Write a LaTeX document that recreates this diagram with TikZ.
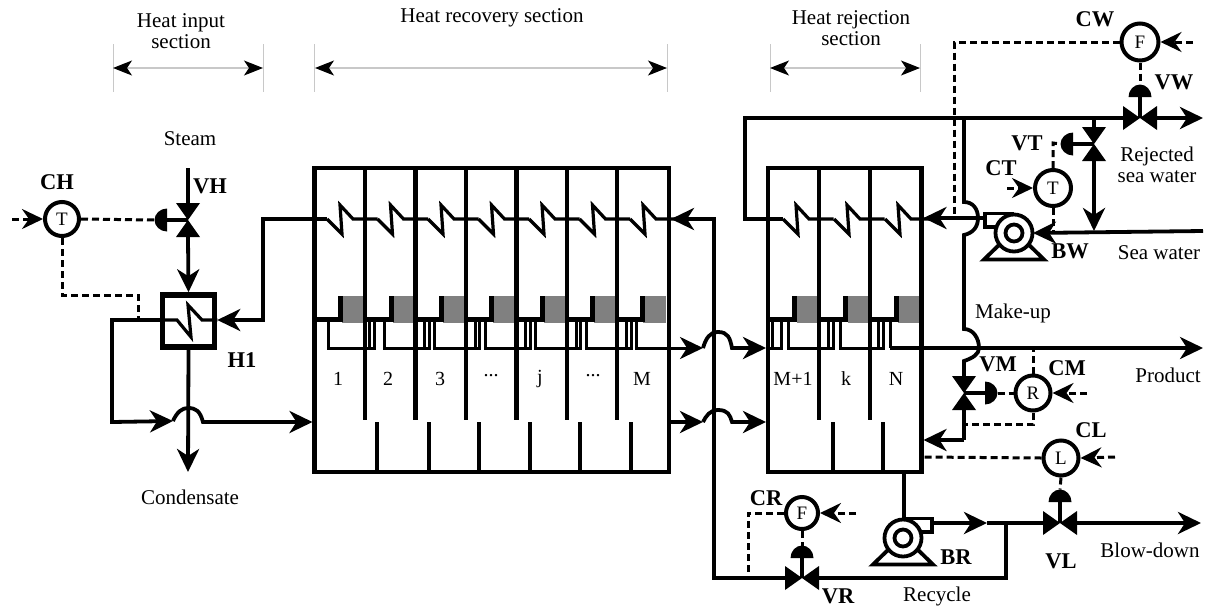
\documentclass[tikz,border=0pt]{standalone}
\usepackage{fontspec}
\setmainfont{Liberation Serif}
\usetikzlibrary{arrows.meta}
\definecolor{ink}{HTML}{000000}
\definecolor{traygray}{HTML}{808080}
\definecolor{dimgray}{HTML}{C8C8C8}
\tikzset{
  plant diagram/.style={
    x=1pt,
    y=-1pt,
    line cap=butt,
    line join=miter
  },
  lbl/.style={
    font=\fontsize{21}{21}\selectfont,
    align=center,
    inner sep=0pt
  },
  boldlbl/.style={
    font=\fontsize{22.5}{22}\selectfont\bfseries,
    inner sep=0pt
  },
  stagelbl/.style={
    font=\fontsize{20}{20}\selectfont,
    inner sep=0pt
  },
  shellbox/.style={
    draw=ink,
    line width=4.6pt,
    inner sep=0pt
  },
  ctrl/.style={
    draw=ink,
    circle,
    fill=white,
    line width=4pt,
    inner sep=0pt,
    minimum size=36pt,
    font=\fontsize{19}{19}\selectfont
  },
  pipe/.style={
    draw=ink,
    line width=3.8pt
  },
  pipearrow/.style={
    pipe,
    -{Stealth[length=23pt,width=22pt,inset=7pt]}
  },
  thinpipe/.style={
    draw=ink,
    line width=3.2pt
  },
  ubend/.style={
    draw=ink,
    line width=3pt
  },
  wall/.style={
    draw=ink,
    line width=4.6pt
  },
  weir/.style={
    draw=ink,
    line width=5pt
  },
  signal/.style={
    draw=ink,
    line width=3pt,
    dash pattern=on 7pt off 4pt
  },
  signalarrow/.style={
    signal,
    -{Stealth[length=21pt,width=20pt,inset=7pt]}
  },
  dimarrow/.style={
    draw=dimgray,
    line width=1.2pt,
    {Stealth[length=19pt,width=15pt,inset=5pt,color=ink]}-{Stealth[length=19pt,width=15pt,inset=5pt,color=ink]}
  },
  pics/hvalve/.style={code={
    \fill[ink] (-17,-12) -- (0,0) -- (-17,12) -- cycle;
    \fill[ink] (17,-12) -- (0,0) -- (17,12) -- cycle;
    \coordinate (-c) at (0,0);
    \coordinate (-w) at (-17,0);
    \coordinate (-e) at (17,0);
  }},
  pics/vvalve/.style={code={
    \fill[ink] (-12,-17) -- (0,0) -- (12,-17) -- cycle;
    \fill[ink] (-12,17) -- (0,0) -- (12,17) -- cycle;
    \coordinate (-c) at (0,0);
    \coordinate (-n) at (0,-17);
    \coordinate (-s) at (0,17);
  }},
  pics/dome/.style={code={
    \fill[ink] (-11.5,0) .. controls (-11.5,-7) and (-6,-12.5) .. (0,-12.5) .. controls (6,-12.5) and (11.5,-7) .. (11.5,0) -- cycle;
    \coordinate (-base) at (0,0);
    \coordinate (-top) at (0,-12.5);
  }},
  pics/pump/.style={code={
    \draw[pipe] (-13,10) -- (-30,26.5) -- (30,26.5) -- (13,10);
    \draw[pipe, fill=white] (0,-19.5) -- (29,-19.5) -- (29,-6) -- (15,-6);
    \draw[pipe, fill=white] (0,0) circle (18.5);
    \draw[pipe, fill=white] (0,0) circle (8.5);
    \coordinate (-in) at (-19,0);
    \coordinate (-top) at (1,-20);
    \coordinate (-out) at (29,-15);
  }},
  pics/coil/.style={code={
    \draw[thinpipe] (0,0) -- (15,15) -- (13,-14) -- (26,0) -- (50.5,0);
  }}
}

\begin{document}
\begin{tikzpicture}[plant diagram]
\useasboundingbox (0,0) rectangle (1208,606);

% section headings
\node[lbl] (inputlbl) at (181,31) {Heat input\\section};
\node[lbl] (recoverylbl) at (492,18) {Heat recovery section};
\node[lbl] (rejectionlbl) at (851,28) {Heat rejection\\section};
\foreach \dx in {113,263,314,667,770,920}
  \draw[draw=dimgray, line width=1pt] (\dx,44) -- (\dx,92);
\coordinate (inputa) at (113,68);
\coordinate (inputb) at (263,68);
\coordinate (recoverya) at (315,68);
\coordinate (recoveryb) at (667,68);
\coordinate (rejecta) at (770,68);
\coordinate (rejectb) at (920,68);
\draw[dimarrow] (inputa) -- (inputb);
\draw[dimarrow] (recoverya) -- (recoveryb);
\draw[dimarrow] (rejecta) -- (rejectb);

% brine pools
\foreach \gx in {342,393,443,493,544,594,643}
  \fill[traygray] (\gx,296) rectangle ++(23,27);
\foreach \gx in {797,848,898}
  \fill[traygray] (\gx,296) rectangle ++(22,27);

% shells
\node[shellbox, minimum width=354.5pt, minimum height=304pt] (recovery) at (491.75,320) {};
\node[shellbox, minimum width=153.5pt, minimum height=304pt] (rejection) at (844.75,320) {};
\foreach \wx in {365,415.5,466,516.5,567,617,819,870}
  \draw[wall] (\wx,168) -- (\wx,420);
\foreach \wx in {377,429,479,530,580,631,833,883}
  \draw[wall] (\wx,422) -- (\wx,472);
\foreach \wx/\wl in {340/314.5,391/365,441/415.5,491.5/466,542/516.5,592.5/567,642/617,794/768,845/819,896/870} {
  \draw[weir] (\wl,319.5) -- (\wx,319.5);
  \draw[weir] (\wx,296) -- (\wx,322);
}
\foreach \ua/\ub in {328/374,384/429,434.5/479.5,485/530,535.5/580.5,586/631,788/833,840/883} {
  \draw[ubend] (\ua,321) -- (\ua,348) -- (\ub,348) -- (\ub,321);
  \draw[ubend] (\ub-4.5,321) -- (\ub-4.5,348);
}

% condenser tubes
\foreach \zx in {327,377.5,428,478.5,529,579.5,630,783,834,885}
  \pic at (\zx,219) {coil};

% stage numbers
\node[stagelbl] (s1) at (338,379) {1};
\node[stagelbl] (s2) at (388,379) {2};
\node[stagelbl] (s3) at (440,379) {3};
\node[stagelbl] (s4) at (491,376) {...};
\node[stagelbl] (s5) at (540,379) {j};
\node[stagelbl] (s6) at (593,376) {...};
\node[stagelbl] (s7) at (642,379) {M};
\node[stagelbl] (s8) at (793,379) {M+1};
\node[stagelbl] (s9) at (846,379) {k};
\node[stagelbl] (s10) at (896,379) {N};

% brine heater
\node[shellbox, line width=5.5pt, minimum size=52pt] (H1) at (188.5,321) {};
\draw[thinpipe] (H1.east |- 0,320) -- (202,320) -- (188,305) -- (191,337) -- (177,320) -- (H1.west |- 0,320);

% valves, actuators, pumps
\pic (vh) at (188,220) {vvalve};
\pic (vt) at (1094,144) {vvalve};
\pic (vm) at (964,393) {vvalve};
\pic (vw) at (1140,118) {hvalve};
\pic (vl) at (1060,523) {hvalve};
\pic (vr) at (802,578) {hvalve};
\pic[rotate=90] (ah) at (167,220) {dome};
\pic[rotate=90] (at) at (1073,144) {dome};
\pic[rotate=-90] (am) at (985,393) {dome};
\pic (aw) at (1140,97) {dome};
\pic (al) at (1060,502) {dome};
\pic (ar) at (802,558) {dome};
\pic[xscale=-1] (bw) at (1014,233) {pump};
\pic (br) at (903,538) {pump};

% controllers
\node[ctrl, minimum size=34pt] (CH) at (62,219) {T};
\node[ctrl, minimum size=37pt] (CW) at (1140,42) {F};
\node[ctrl] (CT) at (1053,188) {T};
\node[ctrl, minimum size=35pt] (CM) at (1033,393) {R};
\node[ctrl, minimum size=35pt] (CL) at (1061,458) {L};
\node[ctrl, minimum size=32pt] (CR) at (802,513) {F};

% route points
\coordinate (steamin) at (188,168);
\coordinate (tubeout) at (327,219);
\coordinate (bendh) at (263,219);
\coordinate (bendi) at (263,320);
\coordinate (tubeback) at (H1.west |- 0,320);
\coordinate (bendj) at (112,320);
\coordinate (bendk) at (112,422);
\coordinate (hoplefta) at (173,421);
\coordinate (hoprighta) at (203,422);
\coordinate (hopgoal) at (312.5,422);
\coordinate (condensate) at (188,472);
\coordinate (recin) at (671,219);
\coordinate (bendv) at (714,219);
\coordinate (bendw) at (714,578);
\coordinate (distout) at (636,321);
\coordinate (distbend) at (636,348);
\coordinate (hopb) at (703,348);
\coordinate (hopc) at (732,348);
\coordinate (distin) at (766,348);
\coordinate (brineout) at (669,422);
\coordinate (hopd) at (703,422);
\coordinate (hope) at (732,422);
\coordinate (brinein) at (766,422);
\coordinate (tubestart) at (783,219);
\coordinate (bendx) at (745,219);
\coordinate (bendy) at (745,118);
\coordinate (rejected) at (1203,118);
\coordinate (seawater) at (1203,231);
\coordinate (teew) at (1094,118);
\coordinate (teex) at (1094,231);
\coordinate (rejin) at (923.5,218);
\coordinate (teemake) at (964,118);
\coordinate (makea) at (964,202);
\coordinate (makeb) at (964,329);
\coordinate (makec) at (964,440);
\coordinate (makein) at (923.5,440);
\coordinate (prodin) at (890,321);
\coordinate (prodbend) at (890,348);
\coordinate (product) at (1203,348);
\coordinate (drain) at (904,472);
\coordinate (recyclea) at (987,523);
\coordinate (teey) at (1006,523);
\coordinate (bendz) at (1006,578);
\coordinate (blowdown) at (1201,523);

% process lines
\draw[pipe] (steamin) -- (vh-n);
\draw[pipearrow] (vh-s) -- (H1.north);
\draw[pipe] (vh-c) -- (ah-base);
\draw[pipearrow] (H1.south) -- (condensate);
\draw[pipearrow] (tubeout) -- (bendh) -- (bendi) -- (H1.east |- bendi);
\draw[pipearrow] (tubeback) -- (bendj) -- (bendk) -- (hoplefta);
\draw[pipearrow] (hoplefta) .. controls (177,412) and (182,408) .. (188,408) .. controls (196,408) and (200,411) .. (hoprighta) -- (hopgoal);
\draw[pipearrow] (vr-w) -- (bendw) -- (bendv) -- (recin);
\draw[pipearrow, line width=3pt] (distout) -- (distbend) -- (hopb);
\draw[pipearrow] (hopb) .. controls (706,338) and (710,332) .. (718,332) .. controls (728,332) and (730,338) .. (hopc) -- (distin);
\draw[pipearrow] (brineout) -- (hopd);
\draw[pipearrow] (hopd) .. controls (706,416) and (710,410) .. (718,410) .. controls (728,410) and (730,415) .. (hope) -- (brinein);
\draw[ubend] (768,348) -- (781,348) -- (781,321);
\draw[ubend] (772,321) -- (772,348);
\draw[pipe] (tubestart) -- (bendx) -- (bendy) -- (vw-w);
\draw[pipe] (vw-c) -- (aw-base);
\draw[pipearrow] (vw-e) -- (rejected);
\draw[pipe] (teew) -- (vt-n);
\draw[pipe] (vt-c) -- (at-base);
\draw[pipearrow] (vt-s) -- (teex);
\draw[pipearrow] (seawater) -- (bw-in);
\draw[pipearrow] (bw-out) -- (rejin);
\draw[pipe] (teemake) -- (makea) .. controls (973,202) and (978,209) .. (978,218) .. controls (978,227) and (973,233) .. (964,235) -- (makeb) .. controls (973,329) and (979,338) .. (979,348) .. controls (979,354) and (973,358) .. (964,361) -- (vm-n);
\draw[pipe] (vm-c) -- (am-base);
\draw[pipe] (vm-s) -- (makec);
\draw[pipearrow] (makec) -- (makein);
\draw[ubend] (prodin) -- (prodbend);
\draw[pipearrow, line width=3.4pt] (prodbend) -- (product);
\draw[pipe] (drain) -- (br-top);
\draw[pipearrow] (br-out) -- (recyclea);
\draw[pipe] (recyclea) -- (vl-w);
\draw[pipe] (vl-c) -- (al-base);
\draw[pipearrow] (vl-e) -- (blowdown);
\draw[pipe] (teey) -- (bendz) -- (vr-e);
\draw[pipe] (vr-c) -- (ar-base);

% control signals
\coordinate (chset) at (12,219);
\coordinate (chbend) at (62,295);
\coordinate (chdrop) at (138,295);
\coordinate (chsense) at (138,320);
\coordinate (cwset) at (1193,42);
\coordinate (cwbend) at (954,42);
\coordinate (cwsense) at (954,218);
\coordinate (ctset) at (1007,188);
\coordinate (ctbend) at (1053,143);
\coordinate (ctsense) at (1053,231);
\coordinate (cmset) at (1087,393);
\coordinate (cmsense) at (1033,348);
\coordinate (cmbend) at (1033,424);
\coordinate (cmfeed) at (964,424);
\coordinate (clset) at (1115,457);
\coordinate (clsense) at (923.5,457);
\coordinate (crset) at (856,513);
\coordinate (crbend) at (748,513);
\coordinate (crsense) at (748,578);
\draw[signalarrow] (chset) -- (CH.west);
\draw[signal] (CH.east) -- (ah-top);
\draw[signal] (CH.south) -- (chbend) -- (chdrop) -- (chsense);
\draw[signalarrow] (cwset) -- (CW.east);
\draw[signal] (CW.west) -- (cwbend) -- (cwsense);
\draw[signal] (CW.south) -- (aw-top);
\draw[signalarrow] (ctset) -- (CT.west);
\draw[signal] (CT.north) -- (ctbend) -- (at-top);
\draw[signal] (CT.south) -- (ctsense);
\draw[signal] (am-top) -- (CM.west);
\draw[signalarrow] (cmset) -- (CM.east);
\draw[signal] (CM.north) -- (cmsense);
\draw[signal] (CM.south) -- (cmbend) -- (cmfeed);
\draw[signalarrow] (clset) -- (CL.east);
\draw[signal] (CL.west) -- (clsense);
\draw[signal] (CL.south) -- (al-top);
\draw[signalarrow] (crset) -- (CR.east);
\draw[signal] (CR.west) -- (crbend) -- (crsense);
\draw[signal] (CR.south) -- (ar-top);

% tags and stream names
\node[lbl] (steamlbl) at (190,139) {Steam};
\node[lbl] (condlbl) at (190,497) {Condensate};
\node[lbl] (rejectedlbl) at (1157,165) {Rejected\\sea water};
\node[lbl] (sealbl) at (1159,253) {Sea water};
\node[lbl] (makelbl) at (1013,313) {Make-up};
\node[lbl] (productlbl) at (1168,375) {Product};
\node[lbl] (blowlbl) at (1150,550) {Blow-down};
\node[lbl] (recyclelbl) at (937,596) {Recycle};
\node[boldlbl] (CHlbl) at (57,182) {CH};
\node[boldlbl] (VHlbl) at (210,186) {VH};
\node[boldlbl] (H1lbl) at (242,360) {H1};
\node[boldlbl] (CWlbl) at (1095,19) {CW};
\node[boldlbl] (VWlbl) at (1174,82) {VW};
\node[boldlbl] (VTlbl) at (1027,143) {VT};
\node[boldlbl] (CTlbl) at (1001,168) {CT};
\node[boldlbl] (BWlbl) at (1070,251) {BW};
\node[boldlbl] (VMlbl) at (998,364) {VM};
\node[boldlbl] (CMlbl) at (1067,368) {CM};
\node[boldlbl] (CLlbl) at (1091,430) {CL};
\node[boldlbl] (CRlbl) at (766,498) {CR};
\node[boldlbl] (BRlbl) at (956,557) {BR};
\node[boldlbl] (VRlbl) at (838,596) {VR};
\node[boldlbl] (VLlbl) at (1061,561) {VL};
\end{tikzpicture}
\end{document}
